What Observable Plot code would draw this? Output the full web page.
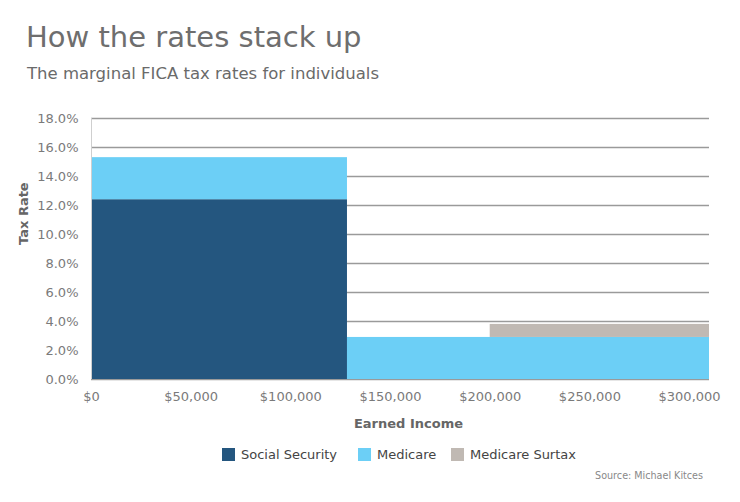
<!DOCTYPE html>
<html>
<head>
<meta charset="utf-8">
<script src="https://cdn.jsdelivr.net/npm/d3@7"></script>
<script src="https://cdn.jsdelivr.net/npm/@observablehq/plot@0.6"></script>
<style>
  html, body { margin: 0; padding: 0; background: #fff; }
  #wrap { position: relative; width: 740px; height: 502px; overflow: hidden; font-family: "DejaVu Sans", Verdana, sans-serif; }
  #title { position: absolute; left: 26px; top: 23px; font-size: 29px; line-height: 29px; color: #6e6e6e; white-space: nowrap; }
  #subtitle { position: absolute; left: 27px; top: 66px; font-size: 16.5px; line-height: 16.5px; color: #6a6a6a; white-space: nowrap; }
  #chart { position: absolute; left: 0; top: 0; }
  #legend { position: absolute; left: 0; top: 448px; width: 740px; height: 13px; font-size: 13px; line-height: 13px; color: #444; white-space: nowrap; }
  #legend .item { position: absolute; top: 0; display: flex; align-items: center; }
  #legend .sw { width: 13px; height: 13px; margin-right: 6px; }
  #source { position: absolute; right: 37px; top: 471px; font-size: 9.6px; line-height: 9.6px; color: #888; white-space: nowrap; }
</style>
</head>
<body>
<div id="wrap">
  <div id="chart"></div>
  <div id="title">How the rates stack up</div>
  <div id="subtitle">The marginal FICA tax rates for individuals</div>
  <div id="legend"></div>
  <div id="source">Source: Michael Kitces</div>
</div>
<script>
// ---- data ----
const series = ["Social Security", "Medicare", "Medicare Surtax"];
const colors = ["#24567f", "#6ccff6", "#c0b9b3"];
const bracketStart = [0, 128400, 200000];
const bracketEnd = [128400, 200000, 310000];
const socialSecurity = [0.124, 0, 0];
const medicare = [0.029, 0.029, 0.029];
const medicareSurtax = [0, 0, 0.009];
const xTicks = [0, 50000, 100000, 150000, 200000, 250000, 300000];
const yTicks = [0, 0.02, 0.04, 0.06, 0.08, 0.10, 0.12, 0.14, 0.16, 0.18];

// ---- stacked table (adjacent identical segments merged) ----
const rates = [socialSecurity, medicare, medicareSurtax];
const table = [];
bracketStart.forEach((s, i) => {
  let base = 0;
  series.forEach((name, j) => {
    const r = rates[j][i];
    if (r > 0) {
      const y1 = base, y2 = base + r;
      const prev = table.find(d => d.series === name && d.end === s && Math.abs(d.y1 - y1) < 1e-9 && Math.abs(d.y2 - y2) < 1e-9);
      if (prev) prev.end = bracketEnd[i];
      else table.push({series: name, start: s, end: bracketEnd[i], y1, y2});
      base = y2;
    }
  });
});

const chart = Plot.plot({
  width: 740,
  height: 502,
  marginLeft: 91,
  marginRight: 31,
  marginTop: 118,
  marginBottom: 123,
  style: {fontFamily: "DejaVu Sans, Verdana, sans-serif", fontSize: "13px", color: "#7a7a7a", background: "transparent"},
  x: {domain: [0, 310000], ticks: xTicks, tickFormat: d => "$" + d3.format(",")(d), tickSize: 0, tickPadding: 12, label: null},
  y: {domain: [0, 0.18], ticks: yTicks, tickFormat: d3.format(".1%"), tickSize: 0, tickPadding: 13, label: null},
  color: {domain: series, range: colors},
  marks: [
    Plot.ruleY(yTicks, {stroke: "#9a9a9a", strokeWidth: 1.5}),
    Plot.rect(table, {x1: "start", x2: "end", y1: "y1", y2: "y2", fill: "series"}),
    Plot.ruleX([0], {stroke: "#cfcfcf"}),
    Plot.text(["Earned Income"], {frameAnchor: "bottom", dy: 48, dx: 8, fontWeight: "bold", fill: "#666", fontSize: 13}),
    Plot.text(["Tax Rate"], {frameAnchor: "left", dx: -67.5, dy: -4, rotate: -90, fontWeight: "bold", fill: "#666", fontSize: 13})
  ]
});
document.getElementById("chart").appendChild(chart);

// ---- legend ----
const legend = document.getElementById("legend");
const legendLeft = [222, 358, 451];
series.forEach((name, i) => {
  const item = document.createElement("div");
  item.className = "item";
  item.style.left = legendLeft[i] + "px";
  const sw = document.createElement("div");
  sw.className = "sw";
  sw.style.background = colors[i];
  const label = document.createElement("span");
  label.textContent = name;
  item.appendChild(sw);
  item.appendChild(label);
  legend.appendChild(item);
});
</script>
</body>
</html>
